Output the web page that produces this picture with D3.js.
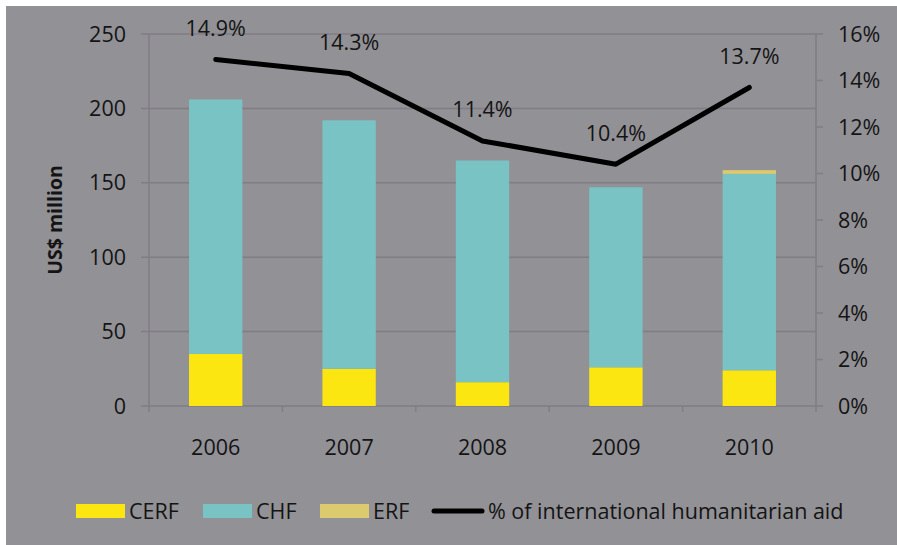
<!DOCTYPE html>
<html>
<head>
<meta charset="utf-8">
<script src="https://cdn.jsdelivr.net/npm/d3@7"></script>
<style>
  html, body { margin: 0; padding: 0; background: #fff; }
  svg { display: block; font-family: "Open Sans", sans-serif; }
</style>
</head>
<body>
<svg id="chart" width="897" height="545"></svg>
<script>
// data
const years = ["2006", "2007", "2008", "2009", "2010"];
const cerf = [35, 25, 16, 26, 24];
const chf = [171, 167, 149, 121, 132];
const erf = [0, 0, 0, 0, 2.5];
const share = [14.9, 14.3, 11.4, 10.4, 13.7];
const leftTicks = [0, 50, 100, 150, 200, 250];
const rightTicks = [0, 2, 4, 6, 8, 10, 12, 14, 16];

const chart = (function (svg) {
    const colors = { CERF: "#fbe612", CHF: "#79c3c4", ERF: "#dccb6e" };
    const grid = "#7f7e83";
    const fs = 21.5;

    svg.append("rect")
        .attr("x", 6).attr("y", 6)
        .attr("width", 891).attr("height", 539)
        .attr("fill", "#929196");

    const left = 149, right = 816, top = 34, bottom = 406;

    const x = d3.scaleBand().domain(years).range([left, right]).paddingInner(0.6).paddingOuter(0.3);
    const xc = d3.scaleBand().domain(years).range([left, right]);
    const y = d3.scaleLinear().domain([0, 250]).range([bottom, top]);
    const y2 = d3.scaleLinear().domain([0, 16]).range([bottom, top]);

    // gridlines
    svg.append("g")
        .selectAll("line")
        .data(leftTicks)
        .join("line")
        .attr("x1", left - 8).attr("x2", right)
        .attr("y1", d => y(d)).attr("y2", d => y(d))
        .attr("stroke", grid).attr("stroke-width", 1.5);

    // axis lines
    svg.append("line")
        .attr("x1", left).attr("x2", left)
        .attr("y1", top).attr("y2", bottom + 6)
        .attr("stroke", grid).attr("stroke-width", 1.5);
    svg.append("line")
        .attr("x1", right).attr("x2", right)
        .attr("y1", top).attr("y2", bottom + 6)
        .attr("stroke", grid).attr("stroke-width", 1.5);

    // category tick marks
    svg.append("g")
        .selectAll("line")
        .data(years.slice(1))
        .join("line")
        .attr("x1", d => xc(d)).attr("x2", d => xc(d))
        .attr("y1", bottom).attr("y2", bottom + 6)
        .attr("stroke", grid).attr("stroke-width", 1.5);

    // right ticks
    svg.append("g")
        .selectAll("line")
        .data(rightTicks)
        .join("line")
        .attr("x1", right).attr("x2", right + 7)
        .attr("y1", d => y2(d)).attr("y2", d => y2(d))
        .attr("stroke", grid).attr("stroke-width", 1.5);

    // stacked bars
    const rows = years.map((yr, i) => ({ year: yr, CERF: cerf[i], CHF: chf[i], ERF: erf[i] }));
    const stack = d3.stack().keys(["CERF", "CHF", "ERF"])(rows);

    svg.append("g")
        .selectAll("g")
        .data(stack)
        .join("g")
        .attr("fill", d => colors[d.key])
        .selectAll("rect")
        .data(d => d)
        .join("rect")
        .attr("x", d => x(d.data.year))
        .attr("width", x.bandwidth())
        .attr("y", d => y(d[1]))
        .attr("height", d => y(d[0]) - y(d[1]));

    // line
    const line = d3.line()
        .x((d, i) => xc(years[i]) + xc.bandwidth() / 2)
        .y(d => y2(d));

    svg.append("path")
        .datum(share)
        .attr("d", line)
        .attr("fill", "none")
        .attr("stroke", "#000")
        .attr("stroke-width", 5)
        .attr("stroke-linecap", "round")
        .attr("stroke-linejoin", "round");

    svg.append("g")
        .selectAll("text")
        .data(share)
        .join("text")
        .attr("x", (d, i) => xc(years[i]) + xc.bandwidth() / 2)
        .attr("y", d => y2(d) - 31)
        .attr("dy", "0.35em")
        .attr("text-anchor", "middle")
        .attr("font-size", fs)
        .attr("fill", "#141414")
        .text(d => d.toFixed(1) + "%");

    // tick labels
    svg.append("g")
        .selectAll("text")
        .data(leftTicks)
        .join("text")
        .attr("x", 126).attr("y", d => y(d))
        .attr("dy", "0.35em")
        .attr("text-anchor", "end")
        .attr("font-size", fs)
        .attr("fill", "#141414")
        .text(d => d);

    svg.append("g")
        .selectAll("text")
        .data(rightTicks)
        .join("text")
        .attr("x", 838).attr("y", d => y2(d))
        .attr("dy", "0.35em")
        .attr("font-size", fs)
        .attr("fill", "#141414")
        .text(d => d + "%");

    svg.append("g")
        .selectAll("text")
        .data(years)
        .join("text")
        .attr("x", d => xc(d) + xc.bandwidth() / 2)
        .attr("y", 447)
        .attr("dy", "0.35em")
        .attr("text-anchor", "middle")
        .attr("font-size", fs)
        .attr("fill", "#141414")
        .text(d => d);

    svg.append("text")
        .attr("transform", "translate(55,220) rotate(-90)")
        .attr("dy", "0.35em")
        .attr("text-anchor", "middle")
        .attr("font-size", 19.5)
        .attr("font-weight", "bold")
        .attr("fill", "#141414")
        .text("US$ million");

    // legend
    const legend = [
        { label: "CERF", x: 76, color: colors.CERF },
        { label: "CHF", x: 203, color: colors.CHF },
        { label: "ERF", x: 320, color: colors.ERF }
    ];
    const lg = svg.append("g");
    lg.selectAll("rect")
        .data(legend)
        .join("rect")
        .attr("x", d => d.x).attr("y", 504)
        .attr("width", 49).attr("height", 14)
        .attr("fill", d => d.color);
    lg.selectAll("text.sw")
        .data(legend)
        .join("text")
        .attr("class", "sw")
        .attr("x", d => d.x + 53).attr("y", 511)
        .attr("dy", "0.35em")
        .attr("font-size", fs)
        .attr("fill", "#141414")
        .text(d => d.label);
    lg.append("line")
        .attr("x1", 434).attr("x2", 482)
        .attr("y1", 511).attr("y2", 511)
        .attr("stroke", "#000").attr("stroke-width", 5)
        .attr("stroke-linecap", "round");
    lg.append("text")
        .attr("x", 488).attr("y", 511)
        .attr("dy", "0.35em")
        .attr("font-size", fs)
        .attr("fill", "#141414")
        .text("% of international humanitarian aid");

    return svg;
})(d3.select("#chart"));
</script>
</body>
</html>
